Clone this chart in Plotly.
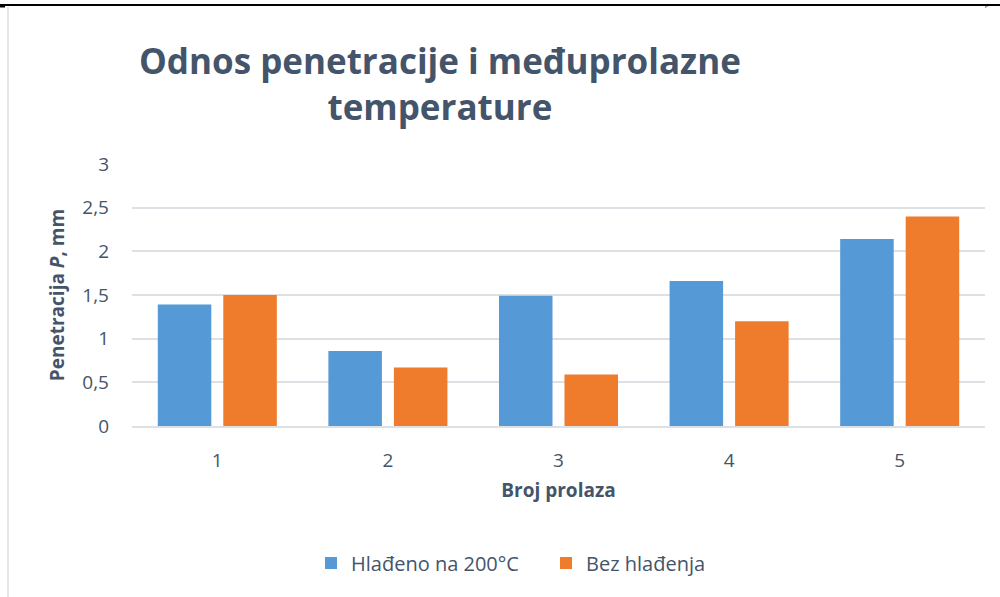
import plotly.graph_objects as go

# Pass number and penetration depth (mm) for both cooling regimes
passes = ["1", "2", "3", "4", "5"]
cooled_200 = [1.39, 0.86, 1.49, 1.66, 2.14]
no_cooling = [1.50, 0.67, 0.59, 1.20, 2.40]

series_names = ["Hlađeno na 200°C", "Bez hlađenja"]
y_ticks = [0, 0.5, 1, 1.5, 2, 2.5, 3]

TEXT = "#44546A"
GRID = "#DDE1E6"
FONT = "Open Sans"

W, H = 1000, 597
L, R, T, B = 132, 15, 164, 171
PW, PH = W - L - R, H - T - B


def px_x(p):
    return (p - L) / PW


def px_y(p):
    return (H - B - p) / PH


fig = go.Figure()
fig.add_trace(go.Bar(x=passes, y=cooled_200, name=series_names[0],
                     marker=dict(color="#5599D7", line=dict(width=0))))
fig.add_trace(go.Bar(x=passes, y=no_cooling, name=series_names[1],
                     marker=dict(color="#EF7B2C", line=dict(width=0))))

fig.update_layout(
    width=W, height=H,
    margin=dict(l=L, r=R, t=T, b=B),
    paper_bgcolor="white", plot_bgcolor="white",
    separators=", ",
    barmode="group", bargap=0.232, bargroupgap=0.183,
    font=dict(family=FONT, color=TEXT),
    showlegend=True,
    legend=dict(orientation="h", x=px_x(546), xanchor="center",
                y=px_y(563), yanchor="middle",
                font=dict(size=20, color=TEXT, family=FONT),
                entrywidth=190, itemwidth=30, traceorder="normal"),
    xaxis=dict(showgrid=False, showline=True, linecolor=GRID, linewidth=2,
               tickfont=dict(size=19, color=TEXT), ticks="",
               ticklabelstandoff=16,
               title=dict(text="<b>Broj prolaza</b>", font=dict(size=19, color=TEXT),
                          standoff=12)),
    yaxis=dict(range=[0, 3], tickvals=y_ticks, showgrid=True, gridcolor=GRID,
               gridwidth=2, zeroline=False, showline=False,
               tickfont=dict(size=19, color=TEXT), ticks="",
               ticklabelstandoff=22,
               title=dict(text="<b>Penetracija <i>P</i>, mm</b>",
                          font=dict(size=19, color=TEXT), standoff=12)),
)

# Two-line chart title
fig.add_annotation(text="<b>Odnos penetracije i međuprolazne<br>temperature</b>",
                   xref="paper", yref="paper", x=px_x(440), y=px_y(84),
                   xanchor="center", yanchor="middle", showarrow=False,
                   font=dict(size=35, color=TEXT, family=FONT), align="center")

# Frame: black rule across the top, light border on the left
fig.add_shape(type="line", xref="paper", yref="paper",
              x0=px_x(0), x1=px_x(1000), y0=px_y(5), y1=px_y(5),
              line=dict(color="black", width=2))
fig.add_shape(type="line", xref="paper", yref="paper",
              x0=px_x(0), x1=px_x(5), y0=px_y(6), y1=px_y(6),
              line=dict(color="black", width=3))
fig.add_shape(type="line", xref="paper", yref="paper",
              x0=px_x(8), x1=px_x(8), y0=px_y(7), y1=px_y(597),
              line=dict(color="#E3E6EA", width=2))
fig.add_annotation(text="p", xref="paper", yref="paper",
                   x=px_x(986), y=px_y(0), xanchor="center", yanchor="top",
                   showarrow=False, font=dict(size=6, color="black",
                                              family="Liberation Serif"))

fig.write_html("out.html")
